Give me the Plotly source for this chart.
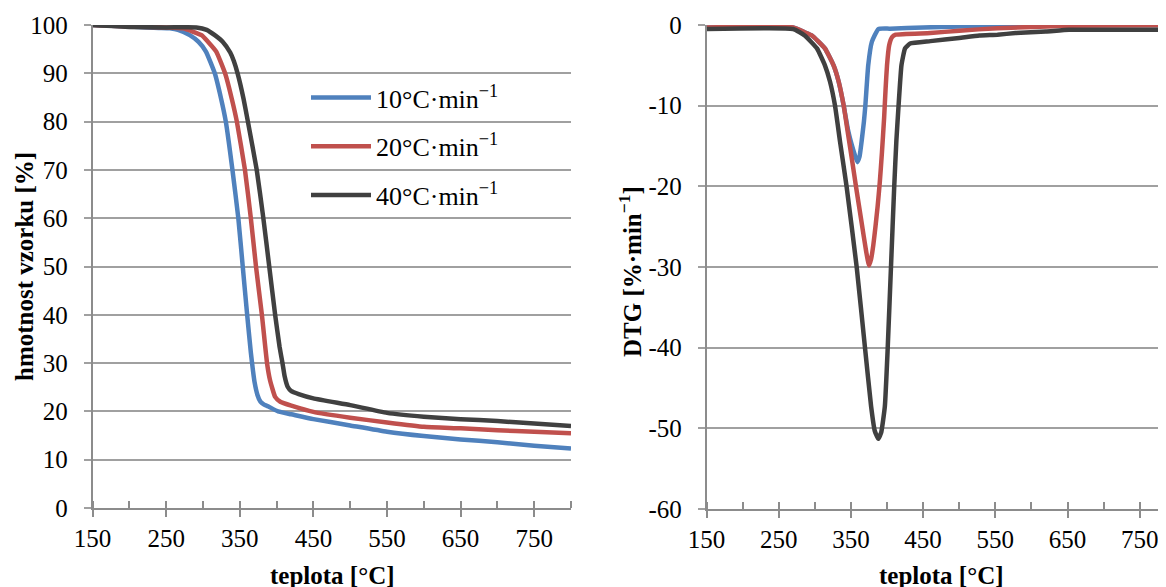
import plotly.graph_objects as go

# ---------------- data ----------------
series_names = ["10°C·min<sup>−1</sup>", "20°C·min<sup>−1</sup>", "40°C·min<sup>−1</sup>"]
series_colors = ["#4F81BD", "#C0504D", "#404040"]

# TGA (left): temperature [°C] and sample mass [%]
tga_t_10 = [150, 200, 240, 255, 266, 282, 294, 304, 316, 324.5, 331, 340, 348, 354, 360, 365, 368,
            370, 374, 378, 383, 389, 402, 420, 450, 500, 550, 600, 650, 700, 750, 800]
tga_w_10 = [100, 99.7, 99.4, 99.3, 99.0, 97.9, 96.5, 94.5, 90, 84.8, 80, 70, 60, 50, 40, 32.2, 28.3,
            26.1, 23.4, 22.0, 21.4, 21, 20, 19.4, 18.4, 17.1, 15.8, 14.9, 14.2, 13.6, 12.9, 12.3]

tga_t_20 = [150, 200, 250, 273, 298, 307, 318, 330, 339, 346, 357, 365, 372, 380, 387, 391, 398,
            405, 420, 450, 500, 550, 600, 650, 700, 750, 800]
tga_w_20 = [100, 99.7, 99.5, 99.3, 97.9, 96.5, 94.5, 90, 84.8, 80, 70, 60, 50, 40, 30, 26.5, 23,
            22, 21.2, 19.9, 18.7, 17.7, 16.8, 16.5, 16.1, 15.8, 15.5]

tga_t_40 = [150, 200, 250, 291, 305, 316, 327, 337, 342, 347, 355, 361, 373, 382, 390, 398, 404, 408,
            411, 415, 420, 430, 450, 500, 550, 600, 650, 700, 750, 800]
tga_w_40 = [100, 99.6, 99.5, 99.5, 99.0, 97.9, 96.5, 94.3, 92.5, 90, 84.8, 80, 70, 60, 50, 40, 33.4, 30,
            27.2, 25.1, 24.2, 23.6, 22.7, 21.3, 19.7, 18.9, 18.4, 18.0, 17.5, 17.0]

# DTG (right): temperature [°C] and rate [%/min]
dtg_t_10 = [150, 270, 286, 296, 314, 326, 333, 340, 346, 351, 355, 359, 362, 365, 368, 370, 374, 379,
            388, 404, 450, 553, 600, 800]
dtg_d_10 = [-0.3, -0.3, -0.9, -1.3, -2.9, -5, -7, -10, -13.0, -14.8, -16.0, -17.0, -16.3, -14.3, -12, -10, -5, -2.1,
            -0.5, -0.45, -0.3, -0.1, 0, 0]

dtg_t_20 = [150, 270, 286, 296, 314, 326, 333, 340, 346, 352, 357, 365, 371, 375, 378, 381, 384, 387,
            390, 393, 396, 398, 400, 403, 407, 412, 460, 500, 553, 650, 800]
dtg_d_20 = [-0.3, -0.3, -0.9, -1.3, -2.9, -5, -7, -10, -13.5, -17, -20, -24.6, -28, -29.8, -29.0, -27.3, -25, -22.5,
            -19.5, -15.8, -11.5, -8, -5, -2.5, -1.5, -1.2, -1.0, -0.7, -0.4, -0.1, 0]

dtg_t_40 = [150, 270, 286, 303, 314, 321, 328, 335, 344, 358, 369.5, 378, 383, 388, 392, 397, 401,
            405.5, 410, 413, 416, 420, 425, 432, 460, 500, 528, 553, 578, 620, 652, 700, 800]
dtg_d_40 = [-0.5, -0.5, -1.3, -2.9, -5, -7, -10, -14.5, -20, -30, -40, -47.3, -50.3, -51.3, -50.5, -47.3, -40,
            -30, -20, -14.3, -10, -5, -2.9, -2.3, -2.0, -1.6, -1.3, -1.2, -1.0, -0.8, -0.6, -0.6, -0.6]

x_tickvals = [150, 250, 350, 450, 550, 650, 750]
tga_y_ticks = [0, 10, 20, 30, 40, 50, 60, 70, 80, 90, 100]
dtg_y_ticks = [-60, -50, -40, -30, -20, -10, 0]
dtg_y_ticktext = ["-60", "-50", "-40", "-30", "-20", "-10", "0"]

# ---------------- figure ----------------
# the page body has an 8 px margin, so the figure is placed at (8, 8)
OFF = 8
FW, FH = 1158, 579
FONT = "Liberation Serif"
GRID = "#A0A0A0"
AXIS = "#8C8C8C"


def sx(p):
    return (p - OFF) / FW


def sy(p):
    return 1 - (p - OFF) / FH


fig = go.Figure()

tga = [(tga_t_10, tga_w_10), (tga_t_20, tga_w_20), (tga_t_40, tga_w_40)]
dtg = [(dtg_t_10, dtg_d_10), (dtg_t_20, dtg_d_20), (dtg_t_40, dtg_d_40)]

for i, (t, w) in enumerate(tga):
    fig.add_trace(go.Scatter(x=t, y=w, mode="lines", name=series_names[i],
                             line=dict(color=series_colors[i], width=4.5, shape="spline", smoothing=0.4),
                             xaxis="x", yaxis="y", legendgroup=f"g{i}", showlegend=True))
for i, (t, d) in enumerate(dtg):
    fig.add_trace(go.Scatter(x=t, y=d, mode="lines", name=series_names[i],
                             line=dict(color=series_colors[i], width=4.5, shape="spline", smoothing=0.4),
                             xaxis="x2", yaxis="y2", legendgroup=f"g{i}", showlegend=False))

common_x = dict(
    tickmode="array", tickvals=x_tickvals, ticks="outside", ticklen=7, tickwidth=1.5, tickcolor=AXIS,
    showline=True, linecolor=AXIS, linewidth=1.5, showgrid=False, zeroline=False,
    tickfont=dict(family=FONT, size=25, color="black"), ticklabelstandoff=0,
    minor=dict(dtick=50, tick0=150, ticks="inside", ticklen=7, tickwidth=1.5, tickcolor=AXIS, showgrid=False),
    automargin=False, fixedrange=True,
)
common_y = dict(
    ticks="outside", ticklen=7, tickwidth=1.5, tickcolor=GRID, tickmode="array",
    showline=True, linecolor=AXIS, linewidth=1.5, showgrid=True, gridcolor=GRID, gridwidth=1.8,
    zeroline=False, tickfont=dict(family=FONT, size=25, color="black"), ticklabelstandoff=11,
    automargin=False, fixedrange=True,
)

fig.update_layout(
    width=FW, height=FH, paper_bgcolor="white", plot_bgcolor="white",
    margin=dict(l=0, r=0, t=0, b=0),
    font=dict(family=FONT, size=25, color="black"),
    xaxis=dict(domain=[sx(92.6), sx(571)], range=[150, 800], anchor="y", **common_x),
    yaxis=dict(domain=[sy(508), sy(25)], range=[0, 100], tickvals=tga_y_ticks, anchor="x", **common_y),
    xaxis2=dict(domain=[sx(706.5), 1.0], range=[150, 786.4], anchor="y2", **common_x),
    yaxis2=dict(domain=[sy(509), sy(25)], range=[-60, 0], tickvals=dtg_y_ticks, ticktext=dtg_y_ticktext,
                anchor="x2", **common_y),
    legend=dict(x=sx(306), y=sy(74), xanchor="left", yanchor="top", bgcolor="rgba(0,0,0,0)",
                font=dict(family=FONT, size=26, color="black"), tracegroupgap=12, itemwidth=60),
    showlegend=True,
)

TITLE_FONT = dict(family=FONT, size=25, color="black")
fig.add_annotation(text="<b>hmotnost vzorku [%]</b>", x=sx(24), y=sy(267), xref="paper", yref="paper",
                   textangle=-90, showarrow=False, font=TITLE_FONT, xanchor="center", yanchor="middle")
fig.add_annotation(text="<b>teplota [°C]</b>", x=sx(332), y=sy(575), xref="paper", yref="paper",
                   showarrow=False, font=TITLE_FONT, xanchor="center", yanchor="middle")
fig.add_annotation(text="<b>DTG [%·min<sup>−1</sup>]</b>", x=sx(630), y=sy(271), xref="paper", yref="paper",
                   textangle=-90, showarrow=False, font=TITLE_FONT, xanchor="center", yanchor="middle")
fig.add_annotation(text="<b>teplota [°C]</b>", x=sx(941), y=sy(575), xref="paper", yref="paper",
                   showarrow=False, font=TITLE_FONT, xanchor="center", yanchor="middle")

fig.write_html("out.html")
